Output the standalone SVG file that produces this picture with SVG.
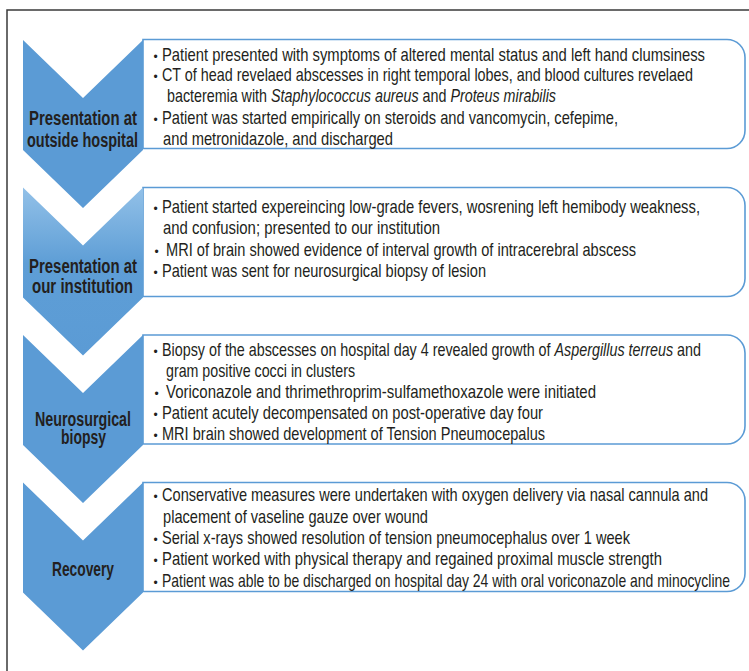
<svg xmlns="http://www.w3.org/2000/svg" width="749" height="671" viewBox="0 0 749 671">
<defs>
<linearGradient id="gLight" x1="0" y1="0" x2="0" y2="1">
<stop offset="0" stop-color="#93c1e8"/>
<stop offset="0.45" stop-color="#5e9ed6"/>
<stop offset="1" stop-color="#5b9bd5"/>
</linearGradient>
<path id="chev" d="M23,0 L83,58 L143,0 L143,110 L83,168 L23,110 Z"/>
<path id="box" d="M143,0 H727 A18,18 0 0 1 745,18 V91 A18,18 0 0 1 727,109 H143 Z"/>
</defs>
<style>
.chev{fill:#5b9bd5;}
.box{fill:#ffffff;stroke:#5b9bd5;stroke-width:1.6;}
.lbl{font-family:"Liberation Sans Narrow","Liberation Sans",Arial,sans-serif;font-weight:bold;font-size:20px;fill:#231f20;text-anchor:middle;}
.t{font-family:"Liberation Sans Narrow","Liberation Sans",Arial,sans-serif;font-size:18.5px;fill:#231f20;}
.b{font-family:"Liberation Sans",Arial,sans-serif;font-size:12px;fill:#231f20;text-anchor:middle;}
.i{font-style:italic;}
.frame{fill:none;stroke:#3a3a3a;stroke-width:1.5;}
</style>
<rect width="749" height="671" fill="#ffffff"/>
<path class="frame" d="M7,671 V10 H749"/>
<g id="connectors"/>

<g id="step1">
<use href="#box" class="box" transform="translate(0,39.5)"/>
<use href="#chev" class="chev" transform="translate(0,40)"/>
<text class="lbl" x="83" y="125" textLength="108" lengthAdjust="spacingAndGlyphs">Presentation at</text>
<text class="lbl" x="82.5" y="147" textLength="111" lengthAdjust="spacingAndGlyphs">outside hospital</text>
<text class="b" x="155.5" y="60.5">•</text>
<text class="t" x="162" y="60.5" textLength="543" lengthAdjust="spacingAndGlyphs">Patient presented with symptoms of altered mental status and left hand clumsiness</text>
<text class="b" x="155.5" y="81">•</text>
<text class="t" x="162" y="81" textLength="531" lengthAdjust="spacingAndGlyphs">CT of head revelaed abscesses in right temporal lobes, and blood cultures revelaed</text>
<text class="t" x="167" y="102" textLength="389" lengthAdjust="spacingAndGlyphs">bacteremia with <tspan class="i">Staphylococcus aureus</tspan> and <tspan class="i">Proteus mirabilis</tspan></text>
<text class="b" x="155.5" y="124">•</text>
<text class="t" x="162" y="124" textLength="456" lengthAdjust="spacingAndGlyphs">Patient was started empirically on steroids and vancomycin, cefepime,</text>
<text class="t" x="163" y="145" textLength="230" lengthAdjust="spacingAndGlyphs">and metronidazole, and discharged</text>
</g>

<g id="step2">
<use href="#box" class="box" transform="translate(0,187.5)"/>
<use href="#chev" fill="url(#gLight)" transform="translate(0,187.5)"/>
<text class="lbl" x="83" y="272.5" textLength="108" lengthAdjust="spacingAndGlyphs">Presentation at</text>
<text class="lbl" x="82.5" y="293" textLength="101" lengthAdjust="spacingAndGlyphs">our institution</text>
<text class="b" x="155.5" y="213">•</text>
<text class="t" x="162" y="213" textLength="538" lengthAdjust="spacingAndGlyphs">Patient started expereincing low-grade fevers, wosrening left hemibody weakness,</text>
<text class="t" x="163" y="234" textLength="277" lengthAdjust="spacingAndGlyphs">and confusion; presented to our institution</text>
<text class="b" x="156.5" y="255.5">•</text>
<text class="t" x="166" y="255.5" textLength="470" lengthAdjust="spacingAndGlyphs">MRI of brain showed evidence of interval growth of intracerebral abscess</text>
<text class="b" x="155.5" y="276.5">•</text>
<text class="t" x="162" y="276.5" textLength="324" lengthAdjust="spacingAndGlyphs">Patient was sent for neurosurgical biopsy of lesion</text>
</g>

<g id="step3">
<use href="#box" class="box" transform="translate(0,335)"/>
<use href="#chev" class="chev" transform="translate(0,335)"/>
<text class="lbl" x="83" y="426" textLength="96" lengthAdjust="spacingAndGlyphs">Neurosurgical</text>
<text class="lbl" x="83.5" y="444" textLength="45" lengthAdjust="spacingAndGlyphs">biopsy</text>
<text class="b" x="155.5" y="355.5">•</text>
<text class="t" x="162" y="355.5" textLength="539" lengthAdjust="spacingAndGlyphs">Biopsy of the abscesses on hospital day 4 revealed growth of <tspan class="i">Aspergillus terreus</tspan> and</text>
<text class="t" x="166" y="376.5" textLength="189" lengthAdjust="spacingAndGlyphs">gram positive cocci in clusters</text>
<text class="b" x="156.5" y="397.5">•</text>
<text class="t" x="166" y="397.5" textLength="430" lengthAdjust="spacingAndGlyphs">Voriconazole and thrimethroprim-sulfamethoxazole were initiated</text>
<text class="b" x="155.5" y="418.5">•</text>
<text class="t" x="162" y="418.5" textLength="381" lengthAdjust="spacingAndGlyphs">Patient acutely decompensated on post-operative day four</text>
<text class="b" x="155.5" y="439.5">•</text>
<text class="t" x="162" y="439.5" textLength="383" lengthAdjust="spacingAndGlyphs">MRI brain showed development of Tension Pneumocepalus</text>
</g>

<g id="step4">
<use href="#box" class="box" transform="translate(0,482.5)"/>
<use href="#chev" class="chev" transform="translate(0,482.5)"/>
<text class="lbl" x="83" y="576" textLength="62" lengthAdjust="spacingAndGlyphs">Recovery</text>
<text class="b" x="155.5" y="501">•</text>
<text class="t" x="162" y="501" textLength="546" lengthAdjust="spacingAndGlyphs">Conservative measures were undertaken with oxygen delivery via nasal cannula and</text>
<text class="t" x="163" y="522.5" textLength="265" lengthAdjust="spacingAndGlyphs">placement of vaseline gauze over wound</text>
<text class="b" x="155.5" y="543.5">•</text>
<text class="t" x="162" y="543.5" textLength="468" lengthAdjust="spacingAndGlyphs">Serial x-rays showed resolution of tension pneumocephalus over 1 week</text>
<text class="b" x="155.5" y="565">•</text>
<text class="t" x="162" y="565" textLength="500" lengthAdjust="spacingAndGlyphs">Patient worked with physical therapy and regained proximal muscle strength</text>
<text class="b" x="155.5" y="586.5">•</text>
<text class="t" x="162" y="586.5" textLength="568" lengthAdjust="spacingAndGlyphs">Patient was able to be discharged on hospital day 24 with oral voriconazole and minocycline</text>
</g>
</svg>
